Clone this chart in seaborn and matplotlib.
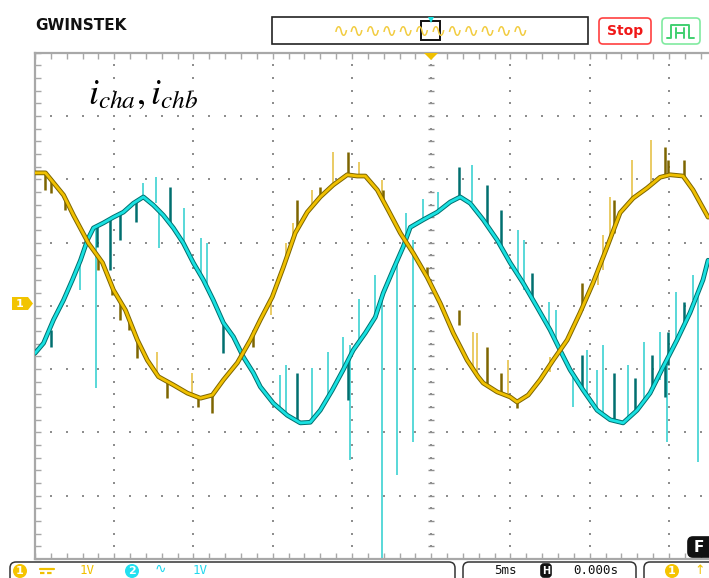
import numpy as np
import matplotlib
matplotlib.use("Agg")
import matplotlib.pyplot as plt
import seaborn as sns
from matplotlib.patches import FancyBboxPatch, Rectangle, Polygon, Circle
from matplotlib.lines import Line2D
from matplotlib.transforms import Affine2D

# ---------------- captured waveforms (time in ms, amplitude in V; 5 ms/div, 1 V/div) -------------
cha_t = [-25.0, -24.34, -23.20, -22.57, -21.63, -20.74, -20.05, -19.29, -18.54, -17.91,
         -17.21, -16.27, -15.38, -14.56, -13.81, -13.11, -12.23, -11.41, -10.78, -10.03,
         -9.33, -8.58, -7.82, -7.00, -6.18, -5.30, -4.67, -4.16, -3.40, -2.71,
         -1.95, -1.13, -0.25, 0.57, 1.39, 2.27, 2.96, 3.28, 4.16, 4.98,
         5.42, 6.12, 6.87, 7.69, 8.58, 9.39, 10.21, 11.10, 11.92, 12.74,
         13.62, 14.44, 15.07, 15.89, 16.52, 17.47]
cha_v = [2.10, 2.10, 1.75, 1.43, 0.99, 0.68, 0.25, -0.07, -0.54, -0.86,
         -1.12, -1.25, -1.38, -1.46, -1.41, -1.17, -0.90, -0.54, -0.22, 0.14,
         0.61, 1.15, 1.48, 1.72, 1.91, 2.07, 2.05, 2.05, 1.83, 1.51,
         1.15, 0.83, 0.45, 0.04, -0.43, -0.86, -1.12, -1.22, -1.36, -1.44,
         -1.52, -1.41, -1.17, -0.86, -0.54, -0.11, 0.36, 0.93, 1.47, 1.70,
         1.86, 2.03, 2.07, 2.05, 1.83, 1.40]

chb_t = [-25.0, -24.46, -23.83, -23.20, -22.64, -22.13, -21.69, -21.31, -20.68, -20.05,
         -19.42, -18.79, -18.16, -17.53, -16.90, -16.27, -15.64, -15.01, -14.38, -13.75,
         -13.11, -12.48, -11.85, -11.22, -10.78, -9.96, -9.08, -8.26, -7.63, -7.00,
         -6.24, -5.55, -4.92, -4.16, -3.53, -3.03, -2.40, -1.77, -1.32, -0.50,
         0.38, 1.20, 1.83, 2.46, 3.28, 4.16, 4.98, 5.80, 6.68, 7.50,
         8.13, 8.76, 9.58, 10.47, 11.29, 12.11, 12.99, 13.81, 14.63, 15.51,
         16.33, 17.15, 17.47]
chb_v = [-0.75, -0.59, -0.22, 0.09, 0.41, 0.72, 1.04, 1.23, 1.31, 1.40,
         1.48, 1.62, 1.72, 1.59, 1.43, 1.23, 0.99, 0.68, 0.41, 0.09,
         -0.27, -0.49, -0.81, -1.06, -1.28, -1.54, -1.73, -1.85, -1.84, -1.65,
         -1.33, -1.01, -0.70, -0.43, -0.18, 0.20, 0.57, 0.93, 1.24, 1.36,
         1.48, 1.64, 1.72, 1.62, 1.36, 1.04, 0.68, 0.36, -0.02, -0.38,
         -0.70, -1.01, -1.33, -1.65, -1.80, -1.85, -1.65, -1.38, -0.97, -0.54,
         -0.11, 0.41, 0.72]

# switching spikes: time, trace level, spike tip
cha_spk_dark_t = [-24.34, -24.02, -23.08, -21.00, -20.11, -19.61, -19.04, -18.54, -16.65, -14.69,
                  -13.81, -11.22, -7.00, -8.45, -5.23, -3.03, -0.25, 1.77, 3.53, 4.41,
                  5.42, 9.52, 11.54, 14.75, 14.94, 15.95]
cha_spk_dark_from = [2.10, 2.02, 1.69, 0.80, 0.30, 0.09, -0.19, -0.51, -1.17, -1.44,
                     -1.41, -0.38, 1.72, 1.23, 2.07, 1.67, 0.45, -0.30, -1.25, -1.38,
                     -1.49, -0.07, 1.15, 2.03, 2.05, 2.02]
cha_spk_dark_to = [1.83, 1.78, 1.51, 0.57, 0.17, -0.22, -0.38, -0.82, -1.46, -1.60,
                   -1.70, -0.65, 1.88, 1.67, 2.43, 1.83, 0.61, -0.07, -0.65, -1.06,
                   -1.61, 0.36, 1.67, 2.51, 2.30, 2.30]

cha_spk_lite_t = [-17.28, -15.07, -6.18, -4.54, -7.50, -8.70, -9.14, -10.09, -3.09, 2.90,
                  2.65, 4.86, 7.50, 10.53, 10.84, 11.29, 12.67, 13.87]
cha_spk_lite_from = [-1.09, -1.38, 1.91, 2.05, 1.58, 1.04, 0.72, 0.09, 1.70, -1.09,
                     -1.01, -1.42, -1.04, 0.33, 0.57, 0.99, 1.67, 1.91]
cha_spk_lite_to = [-0.73, -1.06, 2.43, 2.27, 1.83, 1.31, 0.99, -0.15, 1.99, -0.43,
                   -0.41, -0.86, -0.81, 0.61, 1.12, 1.72, 2.30, 2.62]

chb_spk_lite_t = [-17.34, -17.15, -15.57, -14.50, -14.12, -22.13, -21.12, -18.16, -9.52, -9.14,
                  -7.50, -6.49, -5.55, -4.54, -3.53, -1.58, -0.50, 0.44, 2.59, 5.49,
                  5.86, 7.44, 7.88, 8.95, 9.84, 10.47, 10.84, 12.42, 13.43, 14.44,
                  15.45, 16.52, -5.11, -3.09, -2.14, -1.13, 14.88, 16.83]
chb_spk_lite_from = [1.62, 1.51, 0.96, 0.49, 0.30, 0.72, 1.26, 1.72, -1.65, -1.71,
                     -1.80, -1.46, -1.01, -0.62, -0.18, 1.04, 1.36, 1.48, 1.64, 0.44,
                     0.25, -0.35, -0.54, -1.09, -1.41, -1.65, -1.69, -1.80, -1.49, -1.17,
                     -0.57, 0.09, -0.62, 0.09, 0.64, 1.04, -0.86, 0.25]
chb_spk_lite_to = [2.03, 0.91, 1.55, 1.07, 0.99, 0.25, -1.30, 1.94, -1.09, -0.93,
                   -0.98, -0.73, -0.49, 0.11, 0.49, 1.46, 1.69, 1.80, 2.22, 1.20,
                   1.04, 0.06, -0.07, -1.60, -0.70, -1.01, -0.62, -0.93, -0.57, -0.42,
                   0.22, 0.49, -2.44, -3.98, -2.67, -2.15, -2.15, -2.47]

chb_spk_dark_t = [-16.46, -18.60, -19.61, -20.24, -21.06, -24.02, -13.11, -8.45, -5.23, 1.77,
                  3.53, 4.41, 6.37, 9.52, 11.54, 12.86, 13.93, 14.94, 14.75, 15.95]
chb_spk_dark_from = [1.27, 1.67, 1.46, 1.39, 1.26, -0.38, -0.27, -1.84, -0.86, 1.72,
                     1.27, 0.91, 0.09, -1.33, -1.80, -1.68, -1.33, -0.93, -0.93, -0.30]
chb_spk_dark_to = [1.88, 1.32, 1.04, 0.57, 0.93, -0.65, -0.75, -1.06, -1.49, 2.19,
                   1.91, 1.51, 0.52, -0.78, -1.06, -1.14, -0.78, -0.42, -1.44, 0.06]

label_text = r"$i_{cha},i_{chb}$"
ch_scale = "1V"
time_scale = "5ms"
time_pos = "0.000s"

# ---------------- colours ----------------
YEL = "#f0c000"
YEL_DK = "#7d6500"
YEL_LT = "#e6c24a"
CYN = "#19e1e1"
CYN_DK = "#006f6f"
CYN_LT = "#3cd2d2"
GRID = "#8e8e8e"
FRAME = "#a8a8a8"

W, H = 709, 578
sns.set_style("white")
plt.rcParams["font.family"] = ["DejaVu Sans"]
plt.rcParams["mathtext.fontset"] = "stix"

fig = plt.figure(figsize=(W / 100, H / 100), dpi=100)
fig.patch.set_facecolor("white")

# screen geometry in pixels
X0, XC, DIVX = 35.0, 431.0, 79.3
YT, DIVY = 52.6, 63.3
YB = YT + 8 * DIVY
t_min = (X0 - XC) / DIVX * 5
t_max = (W - XC) / DIVX * 5

ax = fig.add_axes([X0 / W, 1 - YB / H, (W - X0) / W, (YB - YT) / H])
ax.set_xlim(t_min, t_max)
ax.set_ylim(-4, 4)
ax.set_facecolor("white")

# dotted graticule
gx, gy = [], []
for t in np.arange(-20, t_max, 5):
    for v in np.arange(-4, 4.01, 0.2):
        gx.append(t); gy.append(v)
for v in np.arange(-3, 3.01, 1):
    for t in np.arange(-25, t_max, 1):
        gx.append(t); gy.append(v)
ax.scatter(gx, gy, s=2.0, c=GRID, marker="s", linewidths=0, zorder=1)
ax.plot(np.zeros(41), np.arange(-4, 4.01, 0.2), ls="none", marker="_", ms=5, mew=1, color=GRID, zorder=1)
tc = np.arange(-25, t_max, 1)
ax.plot(tc, np.zeros(len(tc)), ls="none", marker="s", ms=2, mew=0, color=GRID, zorder=1)

# frame ticks
ax.set_xticks(np.arange(-25, t_max, 1))
ax.set_yticks(np.arange(-4, 4.01, 0.2))
ax.tick_params(axis="both", direction="in", length=4, width=1, color=FRAME,
               top=True, bottom=True, left=True, right=False,
               labelbottom=False, labelleft=False)
for side in ["left", "top", "bottom"]:
    ax.spines[side].set_color(FRAME)
    ax.spines[side].set_linewidth(1.6)
ax.spines["right"].set_visible(False)
ax.set_xlabel(""); ax.set_ylabel("")

# channel B (cyan) and channel A (yellow) traces
ax.vlines(chb_spk_lite_t, chb_spk_lite_from, chb_spk_lite_to, color=CYN_LT, lw=1.2, zorder=2)
ax.vlines(chb_spk_dark_t, chb_spk_dark_from, chb_spk_dark_to, color=CYN_DK, lw=1.8, zorder=2)
sns.lineplot(x=chb_t, y=chb_v, ax=ax, color=CYN_DK, lw=3.4, estimator=None, sort=False, zorder=3)
sns.lineplot(x=chb_t, y=chb_v, ax=ax, color=CYN, lw=2.0, estimator=None, sort=False, zorder=4)

ax.vlines(cha_spk_lite_t, cha_spk_lite_from, cha_spk_lite_to, color=YEL_LT, lw=1.2, zorder=5)
ax.vlines(cha_spk_dark_t, cha_spk_dark_from, cha_spk_dark_to, color=YEL_DK, lw=1.8, zorder=5)
sns.lineplot(x=cha_t, y=cha_v, ax=ax, color=YEL_DK, lw=3.4, estimator=None, sort=False, zorder=6)
sns.lineplot(x=cha_t, y=cha_v, ax=ax, color=YEL, lw=2.0, estimator=None, sort=False, zorder=7)

# ---------------- screen chrome (pixel coordinates, origin top-left) ----------------
px = Affine2D().scale(1, -1).translate(0, H)

def box(x0, y0, x1, y1, ec, fc="white", lw=1.2, r=4):
    p = FancyBboxPatch((x0, y0), x1 - x0, y1 - y0, boxstyle=f"round,pad=0,rounding_size={r}",
                       transform=px, ec=ec, fc=fc, lw=lw)
    fig.add_artist(p)

def txt(x, y, s, **kw):
    fig.text(x, y, s, transform=px, **kw)

def seg(xs, ys, color, lw=1.4, **kw):
    fig.add_artist(Line2D(xs, ys, transform=px, color=color, lw=lw, **kw))

# logo
txt(35, 26, "GWINSTEK", fontsize=11, fontweight="bold", color="#111111", va="center", ha="left")

# record overview window
fig.add_artist(Rectangle((272, 17), 316, 27, transform=px, ec="#222222", fc="white", lw=1.2))
txt(431, 32, "\u223f" * 12, fontsize=14, color="#f2cc40", ha="center", va="center")
fig.add_artist(Rectangle((421, 21), 19, 19, transform=px, ec="#111111", fc="none", lw=1.4))
fig.add_artist(Polygon([(428, 17), (434, 17), (431, 23)], closed=True, transform=px, fc=CYN, ec="none"))

# run state
box(599, 18, 651, 44, ec="#ff4040", lw=1.2, r=4)
txt(625, 31, "Stop", fontsize=10, fontweight="bold", color="#f01818", ha="center", va="center")
box(662, 18, 700, 44, ec="#80eaa0", lw=1.2, r=4)
seg([667, 671, 671, 689, 689, 694], [38, 38, 25, 25, 38, 38], "#40d070")
seg([676, 676], [28, 38], "#40d070")
seg([684, 684], [28, 38], "#40d070")
seg([676, 684], [33, 33], "#40d070")

# trigger position marker
fig.add_artist(Polygon([(424, 53), (438, 53), (431, 60)], closed=True, transform=px, fc=YEL, ec="none"))

# channel 1 ground marker
fig.add_artist(Polygon([(12, 297), (28, 297), (33, 303.5), (28, 310), (12, 310)], closed=True,
                       transform=px, fc="#f2c400", ec="none"))
txt(20, 304, "1", fontsize=8, fontweight="bold", color="white", ha="center", va="center")

# signal label
fig.text(88 / W, 1 - 104 / H, label_text, fontsize=26, color="black", ha="left", va="baseline")

# F softkey
box(688, 537, 715, 557, ec="#111111", fc="#111111", r=5)
txt(699, 547, "F", fontsize=11, fontweight="bold", color="white", ha="center", va="center")

# status bar
box(10, 562, 455, 595, ec="#333333", lw=1.1, r=6)
box(463, 562, 636, 595, ec="#333333", lw=1.1, r=6)
box(644, 562, 730, 595, ec="#333333", lw=1.1, r=6)
fig.add_artist(Circle((20, 571), 7, transform=px, fc="#f5c400", ec="none"))
txt(20, 571.5, "1", fontsize=8, fontweight="bold", color="white", ha="center", va="center")
# DC coupling symbol
seg([40, 54], [568.5, 568.5], "#f0c000", lw=1.6)
seg([40, 54], [572.5, 572.5], "#f0c000", lw=1.6, ls=(0, (2, 1.2)))
txt(87, 570, ch_scale, fontsize=9, family="DejaVu Sans Mono", color="#f0c000", ha="center", va="center")
fig.add_artist(Circle((132, 571), 7, transform=px, fc="#22e0f0", ec="none"))
txt(132, 571.5, "2", fontsize=8, fontweight="bold", color="white", ha="center", va="center")
txt(160, 569, "\u223f", fontsize=10, color="#22d8ee", ha="center", va="center")
txt(200, 570, ch_scale, fontsize=9, family="DejaVu Sans Mono", color="#22d8ee", ha="center", va="center")
txt(505, 570, time_scale, fontsize=9, family="DejaVu Sans Mono", color="#111111", ha="center", va="center")
box(541, 564, 551, 577, ec="#111111", fc="#111111", r=3)
txt(546, 570.5, "H", fontsize=7, fontweight="bold", color="white", ha="center", va="center")
txt(596, 570, time_pos, fontsize=9, family="DejaVu Sans Mono", color="#111111", ha="center", va="center")
fig.add_artist(Circle((672, 571), 7, transform=px, fc="#f5c400", ec="none"))
txt(672, 571.5, "1", fontsize=8, fontweight="bold", color="white", ha="center", va="center")
txt(694, 570, "\u2191", fontsize=9, color="#f0c000", ha="left", va="center")

fig.savefig("out.png", dpi=100, facecolor="white")
